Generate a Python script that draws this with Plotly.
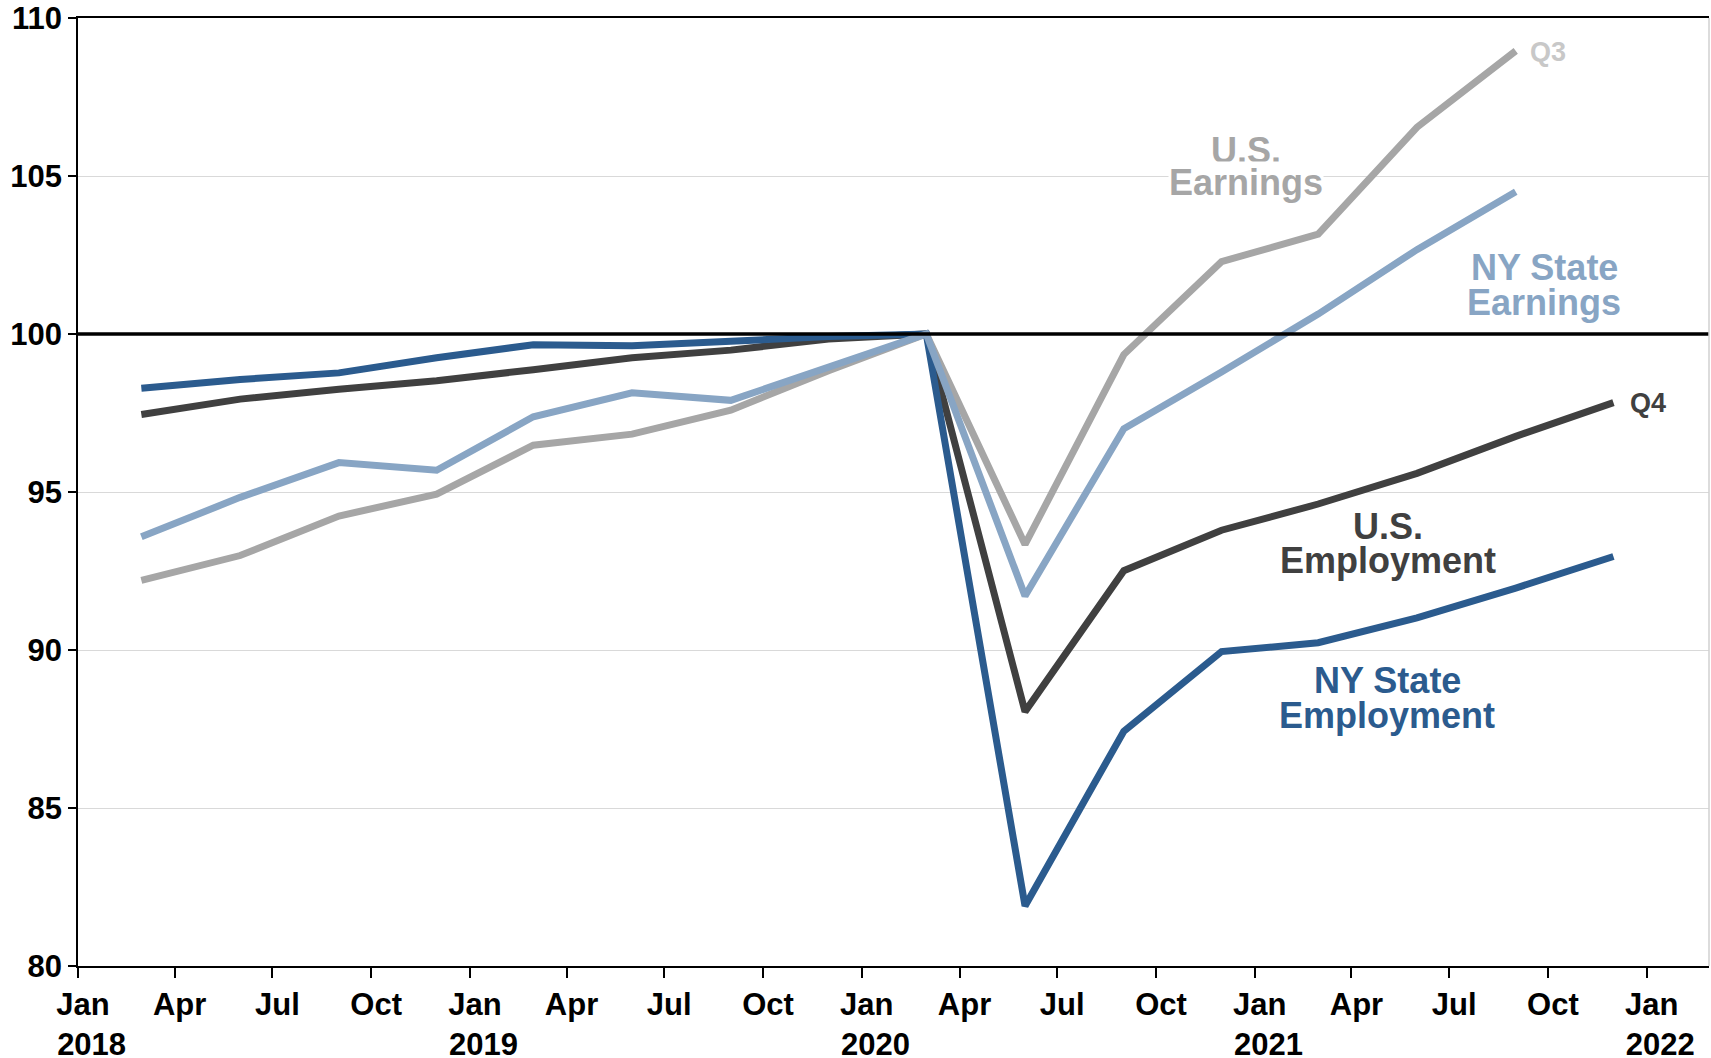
import plotly.graph_objects as go

dates = ["2018-03-01", "2018-06-01", "2018-09-01", "2018-12-01",
         "2019-03-01", "2019-06-01", "2019-09-01", "2019-12-01",
         "2020-03-01", "2020-06-01", "2020-09-01", "2020-12-01",
         "2021-03-01", "2021-06-01", "2021-09-01", "2021-12-01"]

ny_employment = [98.28, 98.56, 98.77, 99.25, 99.66, 99.63, 99.77, 99.92,
                 100.0, 81.9, 87.43, 89.95, 90.23, 91.02, 91.96, 92.96]
us_employment = [97.45, 97.94, 98.25, 98.52, 98.87, 99.25, 99.49, 99.84,
                 100.0, 88.05, 92.51, 93.79, 94.62, 95.59, 96.76, 97.83]
ny_earnings = [93.58, 94.83, 95.93, 95.69, 97.38, 98.14, 97.90, 98.94,
               100.0, 91.71, 97.0, 98.8, 100.63, 102.67, 104.5]
us_earnings = [92.2, 92.99, 94.24, 94.93, 96.48, 96.83, 97.59, 98.84,
               100.0, 93.34, 99.35, 102.29, 103.16, 106.54, 108.96]

tick_vals = ["2018-01-01", "2018-04-01", "2018-07-01", "2018-10-01",
             "2019-01-01", "2019-04-01", "2019-07-01", "2019-10-01",
             "2020-01-01", "2020-04-01", "2020-07-01", "2020-10-01",
             "2021-01-01", "2021-04-01", "2021-07-01", "2021-10-01",
             "2022-01-01"]
NB = "\u00a0\u00a0"
tick_text = ["Jan<br>" + NB + "2018", "Apr", "Jul", "Oct",
             "Jan<br>" + NB + "2019", "Apr", "Jul", "Oct",
             "Jan<br>" + NB + "2020", "Apr", "Jul", "Oct",
             "Jan<br>" + NB + "2021", "Apr", "Jul", "Oct",
             "Jan<br>" + NB + "2022"]

C_NYEMP = "#2b5b8e"
C_USEMP = "#404040"
C_NYEARN = "#88a5c4"
C_USEARN = "#a6a6a6"
C_Q3 = "#c8c8c8"

FONT = "Liberation Sans, Arial, sans-serif"

fig = go.Figure()
for name, vals, col in [("U.S. Earnings", us_earnings, C_USEARN),
                        ("U.S. Employment", us_employment, C_USEMP),
                        ("NY State Employment", ny_employment, C_NYEMP),
                        ("NY State Earnings", ny_earnings, C_NYEARN)]:
    fig.add_trace(go.Scatter(x=dates[:len(vals)], y=vals, mode="lines", name=name,
                             line=dict(color=col, width=7), showlegend=False))

fig.add_shape(type="line", xref="paper", yref="y", x0=0, x1=1, y0=100, y1=100,
              line=dict(color="black", width=3.5), layer="above")
fig.add_shape(type="line", xref="paper", yref="paper", x0=1, x1=1, y0=0, y1=1,
              line=dict(color="#d0d0d0", width=1.5), layer="above")

def lab(text, x, y, color, size=36):
    fig.add_annotation(text=text, xref="paper", yref="paper", x=x, y=y,
                       xanchor="center", yanchor="middle", showarrow=False,
                       bgcolor="white", borderpad=0,
                       font=dict(family=FONT, size=size, color=color, weight="bold"))

lab("U.S.", 0.7163, 0.8605, C_USEARN)
lab("Earnings", 0.7163, 0.826, C_USEARN)
lab("NY State", 0.8989, 0.7373, C_NYEARN)
lab("Earnings", 0.8989, 0.7004, C_NYEARN)
lab("U.S.", 0.8033, 0.4632, C_USEMP)
lab("Employment", 0.8033, 0.4274, C_USEMP)
lab("NY State", 0.8026, 0.3007, C_NYEMP)
lab("Employment", 0.8026, 0.2638, C_NYEMP)

fig.add_annotation(text="Q3", x=dates[len(us_earnings) - 1], y=us_earnings[-1],
                   xanchor="left", yanchor="middle", xshift=12, yshift=-1, showarrow=False,
                   font=dict(family=FONT, size=27, color=C_Q3, weight="bold"))
fig.add_annotation(text="Q4", x=dates[len(us_employment) - 1], y=us_employment[-1],
                   xanchor="left", yanchor="middle", xshift=15, showarrow=False,
                   font=dict(family=FONT, size=27, color=C_USEMP, weight="bold"))

fig.update_layout(
    width=1711, height=1058,
    margin=dict(l=78, r=2, t=18, b=92),
    plot_bgcolor="white", paper_bgcolor="white",
    font=dict(family=FONT, color="black"),
)
fig.update_xaxes(range=["2018-01-01", "2022-02-28"], tickvals=tick_vals, ticktext=tick_text,
                 showgrid=False, showline=True, linecolor="black", linewidth=1.5, mirror=True,
                 ticks="outside", ticklen=10, tickcolor="black", tickwidth=1.5, automargin=False,
                 ticklabelshift=5,
                 tickfont=dict(family=FONT, size=31, color="black", weight="bold"))
fig.update_yaxes(range=[80, 110], dtick=5, tick0=80,
                 showgrid=True, gridcolor="#d9d9d9", gridwidth=1, zeroline=False,
                 showline=True, linecolor="black", linewidth=1.5, mirror=False,
                 ticks="outside", ticklen=8, tickcolor="black", tickwidth=1.5, automargin=False,
                 tickfont=dict(family=FONT, size=31, color="black", weight="bold"))

fig.write_html("out.html", config={"displayModeBar": False},
               post_script="document.body.style.margin='0';document.body.style.overflow='hidden';")
